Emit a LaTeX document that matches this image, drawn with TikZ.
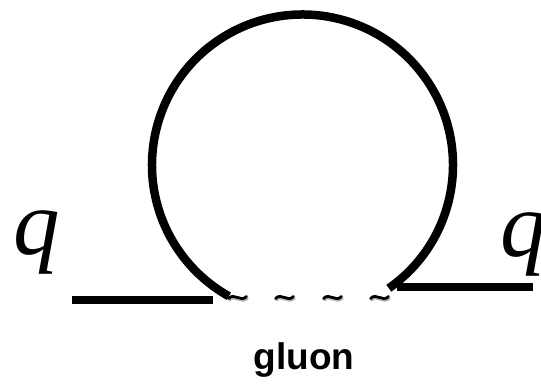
\documentclass[tikz,border=0pt]{standalone}
\usepackage{fontspec}
\setmainfont{Liberation Serif}
\newfontfamily\labelsans{Liberation Sans}
\begin{document}
\begin{tikzpicture}[x=1pt,y=1pt,
  fermion/.style={line width=8.5pt,line cap=butt},
  tildestroke/.style={line width=2.8pt,line cap=round},
  tildeshadow/.style={line width=2.6pt,line cap=round,draw=black!30},
  qlabel/.style={inner sep=0pt,anchor=base west,font=\fontsize{93}{100}\selectfont\itshape},
  gluonlabel/.style={inner sep=0pt,anchor=base,font=\labelsans\bfseries\fontsize{37}{40}\selectfont}]
\useasboundingbox (0,0) rectangle (541,383);
% loop
\coordinate (C) at (302.5,218);
\draw[fermion] (C) ++(-55:150.5) coordinate (loopRend) arc[start angle=-55,end angle=240.7,radius=150.5] coordinate (loopLend);
% external quark lines
\coordinate (inA) at (72,83);
\coordinate (inB) at (213,83);
\coordinate (outA) at (397,96);
\coordinate (outB) at (533,96);
\draw[fermion] (inA) -- (inB);
\draw[fermion] (outA) -- (outB);
% gluon tildes
\foreach \cx in {238,285,333,380}{
  \draw[tildeshadow] (\cx-8.5,82.8) .. controls (\cx-3,89) and (\cx+3,78.6) .. (\cx+9.5,84.6);
  \draw[tildestroke] (\cx-9.5,84.5) .. controls (\cx-3.5,90.8) and (\cx+2.5,80.2) .. (\cx+8.5,86.5);
}
% labels
\node[qlabel] (qL) at (13,128) {q};
\node[qlabel] (qR) at (500,126) {q};
\node[gluonlabel] (gl) at (304,13) {gluon};
\end{tikzpicture}
\end{document}
